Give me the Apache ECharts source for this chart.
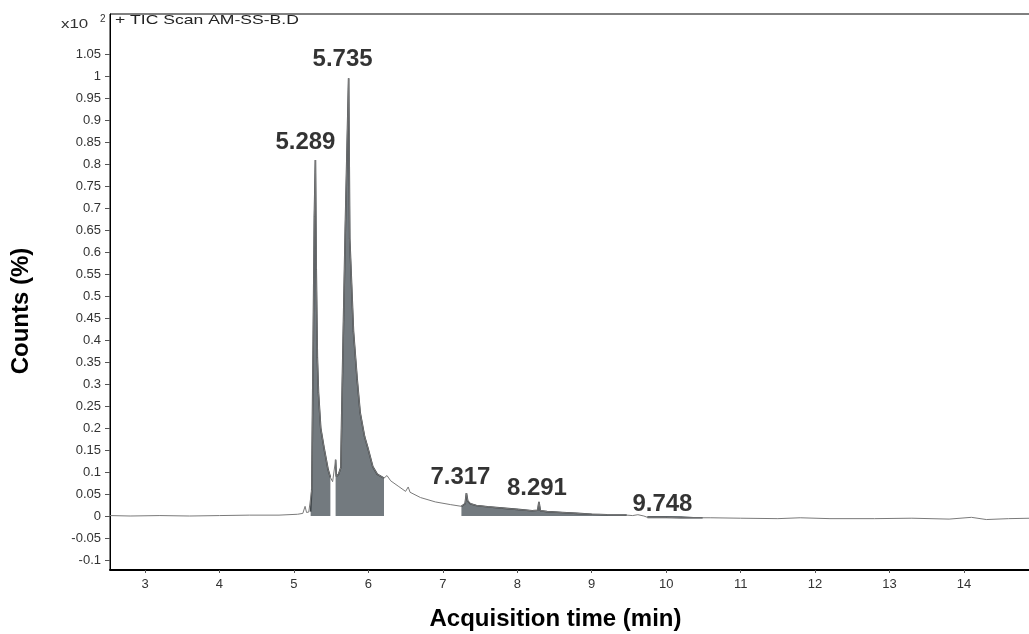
<!DOCTYPE html>
<html lang="en">
<head>
<meta charset="UTF-8">
<title>TIC Scan AM-SS-B.D</title>
<script src="https://cdn.jsdelivr.net/npm/echarts@6/dist/echarts.min.js"></script>
<style>
	html, body { margin: 0; padding: 0; background: #fff; }
	#chart { width: 1029px; height: 634px; }
</style>
</head>
<body>
<div id="chart"></div>
<script>
// chromatogram trace (acquisition time in min, counts x10^2)
var traceTime = [2.53, 2.8, 3.2, 3.6, 4.0, 4.4, 4.8, 5.05, 5.12, 5.15, 5.17, 5.2, 5.225,
	5.24, 5.26, 5.275, 5.289, 5.3, 5.315, 5.33, 5.36, 5.41, 5.46, 5.49, 5.52, 5.545,
	5.56, 5.57, 5.6, 5.63, 5.65, 5.69, 5.735, 5.75, 5.8, 5.85, 5.89, 5.95, 5.99, 6.06,
	6.12, 6.21, 6.25, 6.3, 6.4, 6.5, 6.535, 6.56, 6.7, 6.9, 7.1, 7.25, 7.3, 7.317,
	7.335, 7.37, 7.45, 7.6, 7.8, 8.0, 8.2, 8.275, 8.291, 8.31, 8.4, 8.6, 8.8, 9.0,
	9.2, 9.47, 9.55, 9.62, 9.7, 9.748, 10.0, 10.2, 10.49, 10.6, 11.0, 11.5, 11.8,
	12.2, 12.8, 13.3, 13.8, 14.1, 14.3, 14.6, 14.9];
var traceCount = [0.001, 0.0, 0.001, 0.0, 0.001, 0.002, 0.002, 0.004, 0.006, 0.022, 0.008, 0.009, 0.010,
	0.06, 0.40, 0.68, 0.809, 0.56, 0.36, 0.28, 0.20, 0.15, 0.105, 0.088, 0.078, 0.082,
	0.128, 0.09, 0.095, 0.11, 0.30, 0.65, 0.995, 0.63, 0.42, 0.31, 0.235, 0.18, 0.157, 0.112,
	0.095, 0.086, 0.092, 0.08, 0.068, 0.056, 0.066, 0.054, 0.042, 0.032, 0.026, 0.022, 0.028, 0.052,
	0.034, 0.028, 0.024, 0.021, 0.018, 0.015, 0.012, 0.013, 0.032, 0.012, 0.010, 0.008, 0.006, 0.004,
	0.003, 0.002, 0.001, 0.003, 0.0, -0.003, -0.003, -0.004, -0.004, -0.004, -0.005, -0.006, -0.004,
	-0.006, -0.006, -0.005, -0.007, -0.003, -0.008, -0.006, -0.005];

// integrated peak windows (start / end time)
var windowStart = [5.225, 5.56, 7.25, 9.748];
var windowEnd = [5.49, 6.21, 9.47, 10.49];

// labelled peaks
var peakLabels = ['5.289', '5.735', '7.317', '8.291', '9.748'];
var peakTimes = [5.289, 5.735, 7.317, 8.291, 9.748];
var peakHeights = [0.809, 0.995, 0.052, 0.032, -0.003];

// tick labels
var xTicks = [3, 4, 5, 6, 7, 8, 9, 10, 11, 12, 13, 14];
var yTicks = ['-0.1', '-0.05', '0', '0.05', '0.1', '0.15', '0.2', '0.25', '0.3', '0.35', '0.4',
	'0.45', '0.5', '0.55', '0.6', '0.65', '0.7', '0.75', '0.8', '0.85', '0.9', '0.95', '1', '1.05'];

var trace = [];
for (var i = 0; i < traceTime.length; i++) trace.push([traceTime[i], traceCount[i]]);
var yTickVals = yTicks.map(parseFloat);

var series = [];
// shaded integration areas
for (var w = 0; w < windowStart.length; w++) {
	var pts = trace.filter(function (p) { return p[0] >= windowStart[w] && p[0] <= windowEnd[w]; });
	series.push({
		type: 'line',
		data: pts,
		symbol: 'none',
		silent: true,
		lineStyle: { color: '#40464a', width: 1.6 },
		areaStyle: { color: '#737a7f', opacity: 1, origin: 0 },
		z: 2
	});
}
// full trace
series.push({
	type: 'line',
	data: trace,
	symbol: 'none',
	lineStyle: { color: '#7a7a7a', width: 1 },
	z: 3
});
// peak labels
var labelOffsets = [[-10, -2], [-6, -3], [-6, 0], [-2, 2], [15, 3]];
series.push({
	type: 'scatter',
	symbolSize: 0,
	z: 5,
	data: peakTimes.map(function (t, k) {
		return {
			value: [t, peakHeights[k]],
			label: { offset: labelOffsets[k] }
		};
	}),
	label: {
		show: true,
		position: 'top',
		distance: 4,
		formatter: function (p) { return peakLabels[p.dataIndex]; },
		fontFamily: 'Liberation Sans, Arial, sans-serif',
		fontWeight: 'bold',
		fontSize: 24,
		color: '#000'
	}
});

var chart = echarts.init(document.getElementById('chart'));
chart.setOption({
	animation: false,
	backgroundColor: '#fff',
	grid: {
		left: 110, top: 14, right: -2, bottom: 64,
		outerBoundsMode: 'none',
		containLabel: false,
		show: true, borderColor: '#000', borderWidth: 1
	},
	xAxis: {
		type: 'value',
		min: 2.53,
		max: 14.9,
		name: 'Acquisition time (min)',
		nameLocation: 'middle',
		nameGap: 37,
		nameTextStyle: {
			fontFamily: 'Liberation Sans Narrow, Liberation Sans, Arial, sans-serif',
			fontWeight: 'bold', fontSize: 24, color: '#000',
			padding: [0, 30, 0, 0]
		},
		axisLine: { show: true, onZero: false, lineStyle: { color: '#000', width: 2 } },
		axisTick: { show: true, customValues: xTicks, length: 3, lineStyle: { color: '#555' } },
		axisLabel: {
			customValues: xTicks, margin: 8,
			fontFamily: 'Liberation Sans, Arial, sans-serif', fontSize: 13, color: '#333'
		},
		splitLine: { show: false }
	},
	yAxis: {
		type: 'value',
		min: -0.1227,
		max: 1.141,
		name: 'Counts (%)',
		nameLocation: 'middle',
		nameRotate: 90,
		nameGap: 77,
		nameTextStyle: {
			fontFamily: 'Liberation Sans, Arial, sans-serif',
			fontWeight: 'bold', fontSize: 24, color: '#000',
			padding: [0, 38, 0, 0]
		},
		axisLine: { show: true, onZero: false, lineStyle: { color: '#000', width: 1 } },
		axisTick: { show: true, customValues: yTickVals, length: 5, lineStyle: { color: '#555' } },
		axisLabel: {
			customValues: yTickVals, margin: 9,
			fontFamily: 'Liberation Sans, Arial, sans-serif', fontSize: 13, color: '#333',
			formatter: function (v) {
				var k = yTickVals.indexOf(v);
				return k >= 0 ? yTicks[k] : '';
			}
		},
		splitLine: { show: false }
	},
	graphic: [
		{
			type: 'text', left: 61, top: 18, scaleX: 1.3,
			style: { text: 'x10', font: '13px "Liberation Sans", Arial, sans-serif', fill: '#333' }
		},
		{
			type: 'text', left: 100, top: 14,
			style: { text: '2', font: '10px "Liberation Sans", Arial, sans-serif', fill: '#333' }
		},
		{
			type: 'text', left: 115, top: 14, scaleX: 1.35,
			style: { text: '+ TIC Scan AM-SS-B.D', font: '13px "Liberation Sans", Arial, sans-serif', fill: '#222' }
		}
	],
	series: series
});
</script>
</body>
</html>
